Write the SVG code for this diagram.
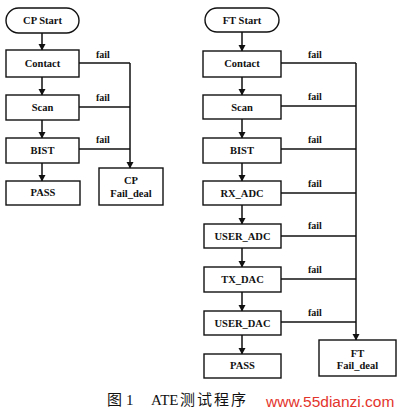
<svg xmlns="http://www.w3.org/2000/svg" width="400" height="415" viewBox="0 0 400 415">
<defs>
<marker id="ah" markerWidth="7" markerHeight="8" refX="6" refY="4" orient="auto" markerUnits="userSpaceOnUse">
<path d="M0,0.5 L6.5,4 L0,7.5 Z" fill="#111"/>
</marker>
<style>
.box{fill:#fff;stroke:#111;stroke-width:1.4}
.t{font-family:"Liberation Serif","Times New Roman",serif;font-weight:bold;font-size:10.5px;fill:#111;text-anchor:middle}
.f{font-family:"Liberation Serif","Times New Roman",serif;font-weight:bold;font-size:10px;fill:#111}
.c{fill:none;stroke:#111;stroke-width:1.3}
.a{fill:none;stroke:#111;stroke-width:1.5;marker-end:url(#ah)}
.cap{font-family:"Liberation Serif","Noto Sans CJK SC",serif;font-size:15px;fill:#111}
</style>
</defs>
<rect width="400" height="415" fill="#fff"/>
<g id="connectors">
<line class="a" x1="42" y1="33" x2="42" y2="50"/>
<line class="a" x1="42" y1="77" x2="42" y2="95"/>
<line class="a" x1="42" y1="120" x2="42" y2="138"/>
<line class="a" x1="42" y1="163" x2="42" y2="181"/>
<line class="c" x1="79" y1="63" x2="130" y2="63"/>
<line class="c" x1="79" y1="107" x2="130" y2="107"/>
<line class="c" x1="79" y1="149" x2="130" y2="149"/>
<line class="a" x1="130" y1="63" x2="130" y2="168"/>
<line class="a" x1="242" y1="32" x2="242" y2="51"/>
<line class="a" x1="242" y1="77" x2="242" y2="95"/>
<line class="a" x1="242" y1="119" x2="242" y2="138"/>
<line class="a" x1="242" y1="163" x2="242" y2="181"/>
<line class="a" x1="242" y1="205" x2="242" y2="224"/>
<line class="a" x1="242" y1="248" x2="242" y2="267"/>
<line class="a" x1="242" y1="292" x2="242" y2="311"/>
<line class="a" x1="242" y1="335" x2="242" y2="354"/>
<line class="c" x1="281" y1="63" x2="356" y2="63"/>
<line class="c" x1="281" y1="106" x2="356" y2="106"/>
<line class="c" x1="281" y1="149" x2="356" y2="149"/>
<line class="c" x1="281" y1="193" x2="356" y2="193"/>
<line class="c" x1="281" y1="236" x2="356" y2="236"/>
<line class="c" x1="281" y1="279" x2="356" y2="279"/>
<line class="c" x1="281" y1="322" x2="356" y2="322"/>
<line class="a" x1="356" y1="63" x2="356" y2="340"/>
<text class="f" x="96" y="58">fail</text>
<text class="f" x="96" y="101">fail</text>
<text class="f" x="96" y="143">fail</text>
<text class="f" x="308" y="58">fail</text>
<text class="f" x="308" y="100">fail</text>
<text class="f" x="308" y="143">fail</text>
<text class="f" x="308" y="187">fail</text>
<text class="f" x="308" y="229">fail</text>
<text class="f" x="308" y="273">fail</text>
<text class="f" x="308" y="316">fail</text>
</g>
<g id="cp_start"><rect class="box" x="6" y="8" width="73" height="25" rx="12.5"/><text class="t" x="42.5" y="24">CP Start</text></g>
<g id="cp_contact"><rect class="box" x="6" y="50" width="73" height="27"/><text class="t" x="42.5" y="67">Contact</text></g>
<g id="cp_scan"><rect class="box" x="6" y="95" width="73" height="25"/><text class="t" x="42.5" y="111">Scan</text></g>
<g id="cp_bist"><rect class="box" x="6" y="138" width="73" height="25"/><text class="t" x="42.5" y="154">BIST</text></g>
<g id="cp_pass"><rect class="box" x="6" y="181" width="74" height="24"/><text class="t" x="43" y="196">PASS</text></g>
<g id="cp_fail"><rect class="box" x="99" y="168" width="64" height="37"/><text class="t" x="131" y="184">CP</text><text class="t" x="131" y="197">Fail_deal</text></g>
<g id="ft_start"><rect class="box" x="205" y="8" width="74" height="24" rx="12"/><text class="t" x="242" y="24">FT Start</text></g>
<g id="ft_contact"><rect class="box" x="203" y="51" width="78" height="26"/><text class="t" x="242" y="67">Contact</text></g>
<g id="ft_scan"><rect class="box" x="203" y="95" width="78" height="24"/><text class="t" x="242" y="111">Scan</text></g>
<g id="ft_bist"><rect class="box" x="203" y="138" width="78" height="25"/><text class="t" x="242" y="154">BIST</text></g>
<g id="ft_rx_adc"><rect class="box" x="203" y="181" width="78" height="24"/><text class="t" x="242" y="197">RX_ADC</text></g>
<g id="ft_user_adc"><rect class="box" x="204" y="224" width="77" height="24"/><text class="t" x="242.5" y="240">USER_ADC</text></g>
<g id="ft_tx_dac"><rect class="box" x="204" y="267" width="77" height="25"/><text class="t" x="242.5" y="283">TX_DAC</text></g>
<g id="ft_user_dac"><rect class="box" x="204" y="311" width="77" height="24"/><text class="t" x="242.5" y="327">USER_DAC</text></g>
<g id="ft_pass"><rect class="box" x="204" y="354" width="77" height="24"/><text class="t" x="242.5" y="369">PASS</text></g>
<g id="ft_fail"><rect class="box" x="319" y="340" width="77" height="36"/><text class="t" x="357.5" y="357">FT</text><text class="t" x="357.5" y="369">Fail_deal</text></g>
<text class="cap" y="405"><tspan x="107">图</tspan><tspan x="126">1</tspan><tspan x="151">ATE</tspan><tspan x="180">测</tspan><tspan x="197">试</tspan><tspan x="214">程</tspan><tspan x="231">序</tspan></text>
<text x="266" y="407" font-family="'Liberation Sans',Arial,sans-serif" font-size="15.5" fill="#e3342c">www.55dianzi.com</text>
</svg>
